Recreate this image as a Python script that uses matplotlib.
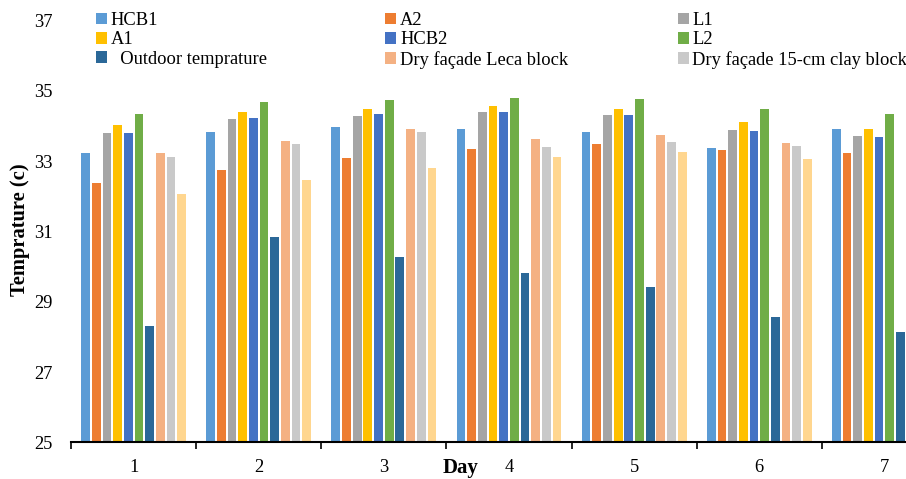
import matplotlib.pyplot as plt
import numpy as np

plt.rcParams['font.family'] = ['Liberation Serif', 'DejaVu Serif']

days = ['1', '2', '3', '4', '5', '6', '7']

# mean temperatures per day for each case (deg C)
hcb1 = [33.24, 33.82, 33.98, 33.92, 33.82, 33.38, 33.92]
a2 = [32.38, 32.75, 33.08, 33.36, 33.49, 33.33, 33.24]
l1 = [33.80, 34.20, 34.29, 34.39, 34.32, 33.90, 33.72]
a1 = [34.03, 34.41, 34.49, 34.57, 34.49, 34.11, 33.92]
hcb2 = [33.80, 34.23, 34.34, 34.39, 34.32, 33.85, 33.69]
l2 = [34.34, 34.70, 34.73, 34.81, 34.78, 34.49, 34.34]
outdoor = [28.32, 30.85, 30.28, 29.82, 29.41, 28.58, 28.14]
dry_leca = [33.24, 33.59, 33.92, 33.62, 33.75, 33.51, 33.46]
dry_clay = [33.12, 33.49, 33.83, 33.41, 33.56, 33.44, 33.30]
extra = [32.07, 32.47, 32.81, 33.12, 33.26, 33.07, 33.00]

series = [
    ('HCB1', hcb1, '#5B9BD5'),
    ('A2', a2, '#ED7D31'),
    ('L1', l1, '#A5A5A5'),
    ('A1', a1, '#FFC000'),
    ('HCB2', hcb2, '#4472C4'),
    ('L2', l2, '#70AD47'),
    ('  Outdoor temprature  ', outdoor, '#2B6898'),
    ('Dry façade Leca block', dry_leca, '#F4B183'),
    ('Dry façade 15-cm clay block', dry_clay, '#C9C9C9'),
    (None, extra, '#FFD68F'),
]

fig = plt.figure(figsize=(9.06, 4.79), dpi=100)
# the plot area runs past the right edge of the figure on purpose
ax = fig.add_axes([71 / 906, 36.7 / 479, 876 / 906, 421.6 / 479])

x = np.arange(1, len(days) + 1)
pitch = 0.0853
width = 0.07
bars = {}
for i, (name, vals, color) in enumerate(series):
    offset = (i - (len(series) - 1) / 2) * pitch
    b = ax.bar(x + offset, np.array(vals) - 25, width, bottom=25, color=color, label=name)
    bars[i] = b

ax.set_xlim(0.5, 7.5)
ax.set_ylim(25, 37)
ax.set_yticks([25, 27, 29, 31, 33, 35, 37])
ax.set_xticks(x)
ax.set_xticklabels(days)
ax.set_xticks(np.arange(0.5, 8, 1), minor=True)
ax.tick_params(axis='x', which='major', length=0, pad=12, labelsize=13.3)
ax.tick_params(axis='x', which='minor', length=5, width=1.2, direction='out', color='black')
ax.tick_params(axis='y', length=0, pad=13, labelsize=13.3)
for s in ['top', 'right', 'left']:
    ax.spines[s].set_visible(False)
ax.spines['bottom'].set_linewidth(1.5)

fig.text(20 / 906, 1 - 230 / 479, 'Temprature (c)', rotation=90, ha='center', va='center',
         fontsize=14.8, fontweight='bold')
fig.text(461 / 906, 1 - 468 / 479, 'Day', ha='center', va='center', fontsize=15, fontweight='bold')

# legend laid out row by row: HCB1 A2 L1 / A1 HCB2 L2 / Outdoor Leca Clay
order = [0, 3, 6, 1, 4, 7, 2, 5, 8]
handles = [bars[i] for i in order]
labels = [series[i][0] for i in order]
fig.legend(handles, labels, ncol=3, loc='upper left', bbox_to_anchor=(84 / 906, 1.0),
           frameon=False, fontsize=13.3, handlelength=0.6, handleheight=0.6,
           handletextpad=0.2, columnspacing=5.92, labelspacing=0.13, borderaxespad=0.25)

fig.savefig('out.png', dpi=100)
